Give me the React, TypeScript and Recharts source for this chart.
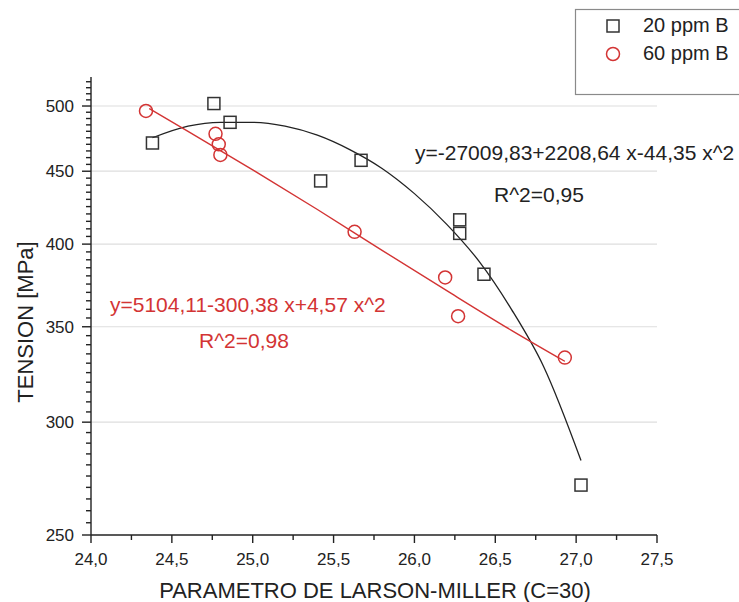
import { ComposedChart, Scatter, Line, XAxis, YAxis, ReferenceLine } from 'recharts';

const WIDTH = 739;
const HEIGHT = 602;
const FONT = '"Liberation Sans", Arial, sans-serif';
const RED = '#d33434';
const INK = '#222';

// 20 ppm B (squares)
const lmp20 = [24.38, 24.76, 24.86, 25.42, 25.67, 26.28, 26.28, 26.43, 27.03];
const tension20 = [471, 502, 487, 443, 458, 416, 407, 381, 271];

// 60 ppm B (circles)
const lmp60 = [24.34, 24.77, 24.79, 24.8, 25.63, 26.19, 26.27, 26.93];
const tension60 = [496, 478, 470, 462, 408, 379, 356, 333];

// fitted curves
const fitX20 = [24.38, 24.6, 24.8, 25.0, 25.2, 25.4, 25.6, 25.8, 26.0, 26.2, 26.4, 26.6, 26.8, 27.03];
const fitY20 = [475, 484, 487, 487, 484, 477, 466, 452, 434, 413, 389, 360, 328, 282];
const fitX60 = [24.36, 24.6, 25.0, 25.4, 25.8, 26.2, 26.6, 26.93];
const fitY60 = [498, 480, 451, 423, 396, 371, 348, 331];

const X_MIN = 24;
const Y_MIN = 250;
const xMajor = [24, 24.5, 25, 25.5, 26, 26.5, 27, 27.5];
const xTicks = [24, 24.25, 24.5, 24.75, 25, 25.25, 25.5, 25.75, 26, 26.25, 26.5, 26.75, 27, 27.25, 27.5];
const yMajor = [250, 300, 350, 400, 450, 500];
const yTicks = Array.from({ length: 55 }, (_, i) => 250 + i * 5);

const pts20 = lmp20.map((x, i) => ({ x, y: tension20[i] }));
const pts60 = lmp60.map((x, i) => ({ x, y: tension60[i] }));
const fit20 = fitX20.map((x, i) => ({ x, y: fitY20[i] }));
const fit60 = fitX60.map((x, i) => ({ x, y: fitY60[i] }));

// tick marks as points sitting on the axes, so they go through the same scales
const yTickPts = yTicks.map((y) => ({ x: X_MIN, y, major: yMajor.includes(y) }));
const xTickPts = xTicks.map((x) => ({ x, y: Y_MIN, major: xMajor.includes(x) }));

const TICK = { fontSize: 17, fill: INK, fontFamily: FONT };
const AXIS_LINE = { stroke: INK, strokeWidth: 1.4 };

const xLabel = (v: number) => (xMajor.includes(v) ? v.toFixed(1).replace('.', ',') : '');
const yLabel = (v: number) => (yMajor.includes(v) ? String(v) : '');

const Square = (p: any) => (
  <rect x={p.cx - 6} y={p.cy - 6} width={12} height={12} fill="none" stroke="#333" strokeWidth={1.5} />
);
const Ring = (p: any) => <circle cx={p.cx} cy={p.cy} r={6.5} fill="none" stroke={RED} strokeWidth={1.5} />;

const YMark = (p: any) => {
  const len = p.payload && p.payload.major ? 9 : 5;
  return <path d={`M${p.cx - len},${p.cy}H${p.cx}`} stroke={INK} strokeWidth={1.4} fill="none" />;
};
const XMark = (p: any) => {
  const len = p.payload && p.payload.major ? 8 : 5;
  return <path d={`M${p.cx},${p.cy}V${p.cy + len}`} stroke={INK} strokeWidth={1.4} fill="none" />;
};

export default function App() {
  return (
    <div style={{ position: 'absolute', left: 0, top: 0, width: WIDTH, height: HEIGHT, background: '#fff' }}>
      <ComposedChart width={WIDTH} height={HEIGHT} margin={{ top: 77, right: 82, left: 0, bottom: 0 }}>
        <XAxis
          type="number" dataKey="x" domain={[24, 27.5]} ticks={xTicks} interval={0}
          height={67} tickSize={5} tickMargin={13} tick={TICK} tickLine={false}
          axisLine={AXIS_LINE} tickFormatter={xLabel}
        />
        <YAxis
          type="number" dataKey="y" scale="log" domain={[250, 524]} ticks={yTicks} interval={0}
          width={91} tickSize={5} tickMargin={12} tick={TICK} tickLine={false}
          axisLine={AXIS_LINE} tickFormatter={yLabel}
        />
        {yMajor.slice(1).map((v) => (
          <ReferenceLine key={v} y={v} stroke="#dedede" strokeWidth={1.2} />
        ))}
        <Scatter data={yTickPts} dataKey="y" shape={YMark} isAnimationActive={false} legendType="none" />
        <Scatter data={xTickPts} dataKey="y" shape={XMark} isAnimationActive={false} legendType="none" />
        <Line data={fit20} dataKey="y" type="monotone" stroke="#222" strokeWidth={1.3} dot={false} isAnimationActive={false} />
        <Line data={fit60} dataKey="y" type="monotone" stroke={RED} strokeWidth={1.4} dot={false} isAnimationActive={false} />
        <Scatter data={pts20} dataKey="y" shape={Square} isAnimationActive={false} />
        <Scatter data={pts60} dataKey="y" shape={Ring} isAnimationActive={false} />
      </ComposedChart>
      <svg
        width={WIDTH} height={HEIGHT}
        style={{ position: 'absolute', left: 0, top: 0, pointerEvents: 'none' }}
        fontFamily={FONT}
      >
        <text x={415} y={160} fontSize={21} fill={INK}>y=-27009,83+2208,64 x-44,35 x^2</text>
        <text x={494} y={202} fontSize={21} fill={INK}>R^2=0,95</text>
        <text x={110} y={312} fontSize={21} fill={RED}>y=5104,11-300,38 x+4,57 x^2</text>
        <text x={199} y={348} fontSize={21} fill={RED}>R^2=0,98</text>

        <text x={33} y={322} fontSize={22} fill={INK} textAnchor="middle" transform="rotate(-90 33 322)">
          TENSION [MPa]
        </text>
        <text x={375} y={598} fontSize={22} fill={INK} textAnchor="middle">PARAMETRO DE LARSON-MILLER (C=30)</text>

        <rect x={575.5} y={9.5} width={200} height={85} fill="#fff" stroke="#8a8a8a" strokeWidth={1.2} />
        <rect x={607} y={20} width={12} height={12} fill="none" stroke="#333" strokeWidth={1.5} />
        <circle cx={613} cy={54} r={6.5} fill="none" stroke={RED} strokeWidth={1.5} />
        <text x={643} y={32} fontSize={20} fill={INK}>20 ppm B</text>
        <text x={643} y={60} fontSize={20} fill={INK}>60 ppm B</text>
      </svg>
    </div>
  );
}
